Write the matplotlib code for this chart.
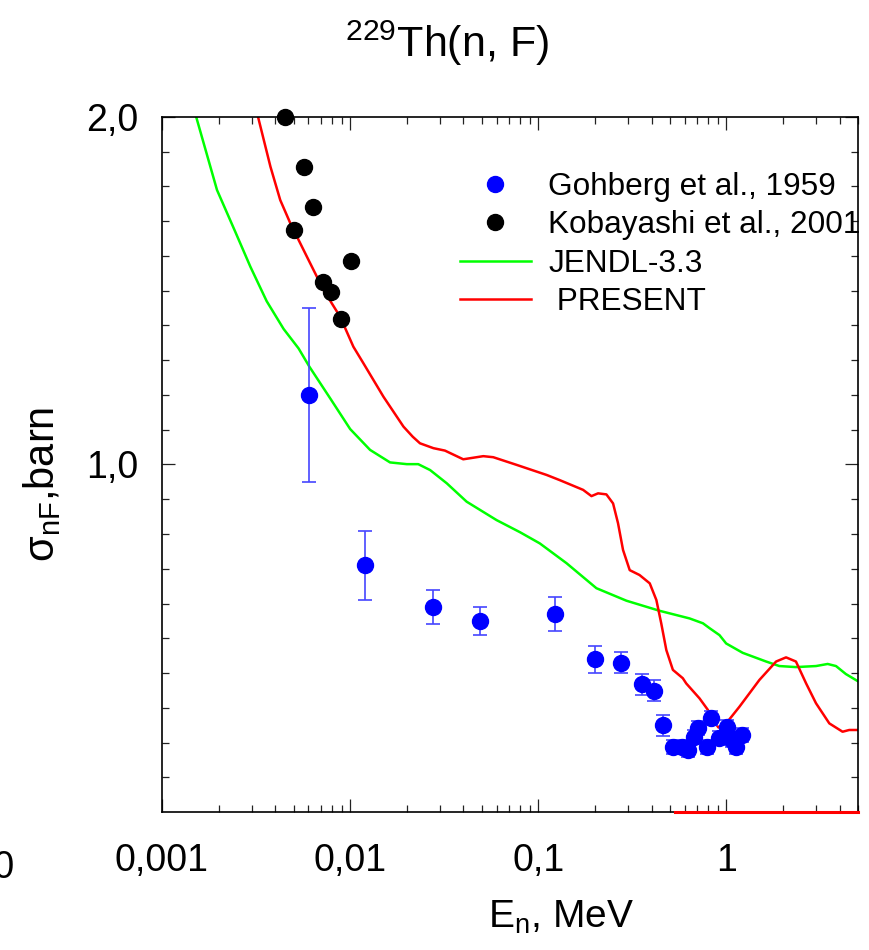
import numpy as np
import matplotlib
matplotlib.use('Agg')
import matplotlib.pyplot as plt
from matplotlib import font_manager

# --- data ---
# Gohberg et al., 1959
goh_e = [0.00605, 0.0120, 0.0275, 0.0490, 0.1233, 0.2009, 0.276, 0.357, 0.410, 0.459,
         0.520, 0.580, 0.621, 0.668, 0.710, 0.792, 0.830, 0.916, 1.010, 1.076, 1.130, 1.202]
goh_s = [1.201, 0.710, 0.590, 0.550, 0.570, 0.439, 0.430, 0.368, 0.349, 0.249,
         0.187, 0.187, 0.178, 0.216, 0.242, 0.187, 0.271, 0.213, 0.245, 0.207, 0.187, 0.222]
goh_err = [0.25, 0.10, 0.05, 0.04, 0.05, 0.04, 0.03, 0.03, 0.03, 0.03,
           0.02, 0.02, 0.02, 0.02, 0.02, 0.02, 0.02, 0.02, 0.02, 0.02, 0.02, 0.02]

# Kobayashi et al., 2001
kob_e = [0.00448, 0.00565, 0.00636, 0.00503, 0.0101, 0.00713, 0.00793, 0.00896]
kob_s = [2.000, 1.855, 1.742, 1.674, 1.586, 1.526, 1.497, 1.419]

# JENDL-3.3
jendl_e = [0.00152, 0.00196, 0.00245, 0.00295, 0.00360, 0.00443, 0.00532, 0.00608, 0.00784,
           0.0100, 0.01276, 0.01629, 0.0200, 0.0230, 0.0266, 0.0326, 0.0416, 0.060, 0.0800,
           0.1018, 0.1412, 0.2036, 0.294, 0.441, 0.637, 0.750, 0.813, 0.918, 0.996, 1.22,
           1.625, 1.91, 2.34, 2.99, 3.45, 3.82, 4.31, 4.97]
jendl_s = [2.000, 1.790, 1.670, 1.569, 1.470, 1.390, 1.334, 1.281, 1.190,
           1.102, 1.042, 1.006, 1.001, 1.001, 0.984, 0.946, 0.893, 0.840, 0.805,
           0.773, 0.716, 0.644, 0.608, 0.579, 0.557, 0.543, 0.529, 0.509, 0.485, 0.458,
           0.433, 0.420, 0.417, 0.420, 0.426, 0.420, 0.397, 0.377]

# PRESENT
pres_e = [0.00324, 0.00377, 0.00425, 0.00481, 0.00589, 0.00722, 0.00885, 0.0104, 0.01177,
          0.01503, 0.0192, 0.0215, 0.0235, 0.0277, 0.0319, 0.0399, 0.0510, 0.0576, 0.0766,
          0.1106, 0.130, 0.173, 0.1916, 0.2077, 0.230, 0.2496, 0.2652, 0.282, 0.306, 0.345,
          0.391, 0.424, 0.450, 0.479, 0.519, 0.586, 0.611, 0.719, 0.796, 0.846, 0.907, 0.996,
          1.172, 1.496, 1.835, 2.073, 2.34, 2.65, 2.99, 3.52, 4.14, 4.49, 4.97]
pres_s = [2.000, 1.857, 1.761, 1.694, 1.598, 1.502, 1.425, 1.339, 1.291,
          1.195, 1.109, 1.080, 1.061, 1.047, 1.040, 1.015, 1.024, 1.021, 0.999,
          0.970, 0.955, 0.927, 0.909, 0.917, 0.914, 0.888, 0.831, 0.754, 0.696, 0.682,
          0.658, 0.610, 0.543, 0.466, 0.409, 0.385, 0.370, 0.327, 0.294, 0.265, 0.243, 0.255,
          0.303, 0.380, 0.433, 0.445, 0.433, 0.370, 0.313, 0.255, 0.231, 0.236, 0.236]
pres_zero_e = [0.53, 5.0]
pres_zero_s = [0.0, 0.0]

x_ticks = [0.001, 0.01, 0.1, 1]
x_labels = ['0,001', '0,01', '0,1', '1']
y_ticks = [1.0, 2.0]
y_labels = ['1,0', '2,0']

# --- fonts ---
names = {f.name for f in font_manager.fontManager.ttflist}
tick_family = 'Liberation Sans Narrow' if 'Liberation Sans Narrow' in names else 'Liberation Sans'
tick_size = 30 if tick_family == 'Liberation Sans Narrow' else 27
plt.rcParams['font.family'] = ['Liberation Sans', 'DejaVu Sans']
plt.rcParams['mathtext.fontset'] = 'custom'
plt.rcParams['mathtext.rm'] = 'Liberation Sans'
plt.rcParams['mathtext.it'] = 'Liberation Sans:italic'
plt.rcParams['mathtext.bf'] = 'Liberation Sans:bold'

fig = plt.figure(figsize=(8.7, 9.5), dpi=100)
ax = fig.add_axes([162 / 870, 1 - 812 / 950, 696 / 870, 695 / 950])

ax.errorbar(goh_e, goh_s, yerr=goh_err, fmt='none', ecolor='#4646ff',
            elinewidth=1.2, capsize=4.7, capthick=1.2, zorder=3)
ax.plot(goh_e, goh_s, 'o', color='#0000ff', markersize=11.5, zorder=4,
        label='Gohberg et al., 1959')
ax.plot(kob_e, kob_s, 'o', color='black', markersize=11.5, zorder=4, clip_on=False,
        label='Kobayashi et al., 2001')
ax.plot(jendl_e, jendl_s, '-', color='#00ff00', linewidth=1.8, label='JENDL-3.3')
ax.plot(pres_e, pres_s, '-', color='#ff0000', linewidth=1.8, label=' PRESENT')
ax.plot(pres_zero_e, pres_zero_s, '-', color='#ff0000', linewidth=2.2, clip_on=False, zorder=5)

ax.set_xscale('log')
ax.set_xlim(0.001, 5)
ax.set_ylim(0, 2)
ax.set_xticks(x_ticks)
ax.set_xticklabels(x_labels, family=tick_family, fontsize=tick_size)
ax.set_yticks(y_ticks)
ax.set_yticklabels(y_labels, family=tick_family, fontsize=tick_size)
ax.set_yticks(np.arange(0.1, 2.0, 0.1), minor=True)
ax.tick_params(which='both', direction='in', top=True, right=True, width=0.9, color='#222222')
ax.tick_params(which='major', length=9.5)
ax.tick_params(which='minor', length=5)
ax.tick_params(axis='x', which='major', pad=22)
ax.tick_params(axis='y', which='major', pad=17)
ax.yaxis.set_minor_formatter(plt.NullFormatter())
ax.xaxis.set_minor_formatter(plt.NullFormatter())
for s in ax.spines.values():
    s.set_linewidth(1.2)

ax.legend(loc='upper left', bbox_to_anchor=(0.428, 0.921), frameon=False, fontsize=22.7,
          handlelength=2.25, handletextpad=0.55, labelspacing=0.27, borderpad=0,
          borderaxespad=0, numpoints=1)

fig.text(447 / 870, 1 - 57 / 950, r'$^{229}$Th(n, F)', fontsize=31, ha='center', va='baseline')
fig.text(42 / 870, 1 - 484 / 950, r'σ$_{\mathrm{nF}}$,barn', fontsize=30, rotation=90,
         ha='center', va='center')
fig.text(561 / 870, 1 - 928 / 950, r'E$_{\mathrm{n}}$, MeV', fontsize=28, ha='center', va='baseline')
fig.text(15 / 870, 1 - 868 / 950, '0,0', family=tick_family, fontsize=tick_size,
         ha='right', va='center')

fig.savefig('out.png', dpi=100)
